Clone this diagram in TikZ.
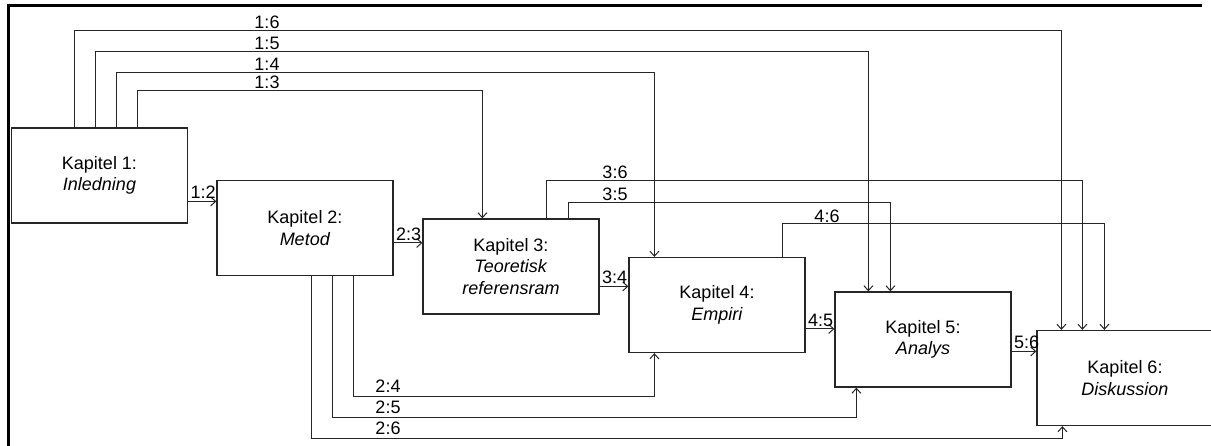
\documentclass[tikz,border=0pt]{standalone}
\usepackage{fontspec}
\setmainfont{Liberation Sans}
\usetikzlibrary{arrows.meta,calc}

\begin{document}
\begin{tikzpicture}[x=1pt, y=-1pt, font=\fontsize{18}{21.5}\selectfont,
  kap/.style={draw=black!85, line width=1.2pt, minimum width=176pt, minimum height=95pt, align=center, inner sep=0pt},
  pil/.style={draw=black!85, line width=1pt, -{Straight Barb[length=5pt,width=9pt]}},
  lbl/.style={inner sep=2pt}]
  \useasboundingbox (0,0) rectangle (1211,445);
  \clip (0,0) rectangle (1211,445);
  \draw[line width=3pt] (1202,5) -- (8,5) -- (8,450);

  \node[kap] (k1) at (99.5,175.5) {Kapitel 1:\\\textit{Inledning}};
  \node[kap] (k2) at (305,228)    {Kapitel 2:\\\textit{Metod}};
  \node[kap] (k3) at (511,266.5)  {Kapitel 3:\\\textit{Teoretisk}\\\textit{referensram}};
  \node[kap] (k4) at (717,305)    {Kapitel 4:\\\textit{Empiri}};
  \node[kap] (k5) at (923,339.5)  {Kapitel 5:\\\textit{Analys}};
  \node[kap] (k6) at (1125,378)   {Kapitel 6:\\\textit{Diskussion}};

  \draw[pil] ($(k1.north east)+(0,74)$) coordinate (a12) -- (a12 -| k2.west) node[lbl,pos=0,anchor=south west] {1:2};
  \draw[pil] ($(k2.north east)+(0,63)$) coordinate (a23) -- (a23 -| k3.west) node[lbl,pos=0,anchor=south west] {2:3};
  \draw[pil] ($(k3.north east)+(0,68)$) coordinate (a34) -- (a34 -| k4.west) node[lbl,pos=0,anchor=south west] {3:4};
  \draw[pil] ($(k4.north east)+(0,72)$) coordinate (a45) -- (a45 -| k5.west) node[lbl,pos=0,anchor=south west] {4:5};
  \draw[pil] ($(k5.north east)+(0,60)$) coordinate (a56) -- (a56 -| k6.west) node[lbl,pos=0,anchor=south west] {5:6};

  \draw[pil] ($(k1.north west)+(127,0)$) -- ++(0,-37) -| ($(k3.north west)+(60,0)$);
  \draw[pil] ($(k1.north west)+(106,0)$) -- ++(0,-55) -| ($(k4.north west)+(26,0)$);
  \draw[pil] ($(k1.north west)+(85,0)$)  -- ++(0,-76) -| ($(k5.north west)+(34,0)$);
  \draw[pil] ($(k1.north west)+(64,0)$)  -- ++(0,-97) -| ($(k6.north west)+(25,0)$);
  \node[lbl,anchor=south] (t13) at (267,91) {1:3};
  \node[lbl,anchor=south] (t14) at (267,73) {1:4};
  \node[lbl,anchor=south] (t15) at (267,52) {1:5};
  \node[lbl,anchor=south] (t16) at (267,31) {1:6};

  \draw[pil] ($(k3.north west)+(146,0)$) -- ++(0,-16) -| ($(k5.north west)+(56,0)$);
  \draw[pil] ($(k3.north west)+(124,0)$) -- ++(0,-38) -| ($(k6.north west)+(46,0)$);
  \draw[pil] ($(k4.north west)+(154,0)$) -- ++(0,-33) -| ($(k6.north west)+(68,0)$);
  \node[lbl,anchor=south] (t35) at (615,203) {3:5};
  \node[lbl,anchor=south] (t36) at (615,181) {3:6};
  \node[lbl,anchor=south] (t46) at (827,225) {4:6};

  \draw[pil] ($(k2.south west)+(137,0)$) -- ++(0,120) -| ($(k4.south west)+(26,0)$);
  \draw[pil] ($(k2.south west)+(116,0)$) -- ++(0,141) -| ($(k5.south west)+(22,0)$);
  \draw[pil] ($(k2.south west)+(95,0)$)  -- ++(0,162) -| ($(k6.south west)+(26,0)$);
  \node[lbl,anchor=south] (t24) at (388,395) {2:4};
  \node[lbl,anchor=south] (t25) at (388,416) {2:5};
  \node[lbl,anchor=south] (t26) at (388,437) {2:6};
\end{tikzpicture}
\end{document}
